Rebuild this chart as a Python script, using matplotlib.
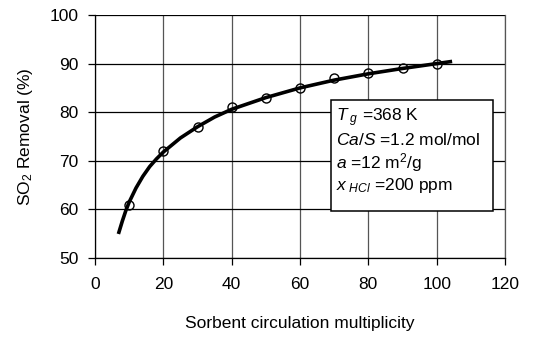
import matplotlib
matplotlib.use("Agg")
import matplotlib.pyplot as plt
from matplotlib.patches import Rectangle

plt.rcParams['font.family'] = ['Liberation Sans', 'DejaVu Sans']
plt.rcParams['mathtext.fontset'] = 'custom'
plt.rcParams['mathtext.rm'] = 'Liberation Sans'
plt.rcParams['mathtext.it'] = 'Liberation Sans:italic'

# measured points
meas_x = [10, 20, 30, 40, 50, 60, 70, 80, 90, 100]
meas_y = [61, 72, 77, 81, 83, 85, 87, 88, 89, 90]

# fitted curve
curve_x = [7, 8, 9, 10, 12, 14, 16, 18, 20, 25, 30, 35, 40, 50, 60, 70, 80, 90, 100, 104]
curve_y = [55.3, 57.6, 59.7, 61.5, 64.4, 66.8, 68.8, 70.4, 71.8, 74.7, 77.0, 79.0, 80.6, 83.0, 85.0, 86.6, 87.9, 89.0, 90.0, 90.4]

xticks = [0, 20, 40, 60, 80, 100, 120]
yticks = [50, 60, 70, 80, 90, 100]

box_lines = ['$T_{\\ g}$ =368 K',
             '$Ca/S$ =1.2 mol/mol',
             '$a$ =12 m$^2$/g',
             '$x_{\\ HCl}$ =200 ppm']

fig = plt.figure(figsize=(5.55, 3.37), dpi=100)
ax = fig.add_axes([95/555, 1-258/337, 410/555, 243/337])

ax.plot(curve_x, curve_y, color='black', lw=2.6, zorder=3)
ax.plot(meas_x, meas_y, linestyle='none', marker='o', ms=6.5, mfc='none', mec='black', mew=1.0, zorder=4)

ax.set_xlim(0, 120)
ax.set_ylim(50, 100)
ax.set_xticks(xticks)
ax.set_yticks(yticks)
ax.tick_params(direction='out', length=5, width=0.9, labelsize=12.5)
ax.tick_params(axis='x', pad=9)
ax.tick_params(axis='y', pad=7)
ax.xaxis.grid(True, color='#555555', lw=0.9)
ax.yaxis.grid(True, color='black', lw=0.9)
for s in ax.spines.values():
    s.set_linewidth(0.9)
ax.spines['top'].set_visible(False)
ax.spines['right'].set_color('#555555')

ax.set_xlabel('Sorbent circulation multiplicity', fontsize=12.5, labelpad=17)
ax.set_ylabel('SO$_2$ Removal (%)', fontsize=12.5, labelpad=10)

x0, x1 = (331-95)/410, (493-95)/410
y0, y1 = (258-211)/243, (258-100)/243
ax.add_patch(Rectangle((x0, y0), x1-x0, y1-y0, transform=ax.transAxes,
                       fc='white', ec='black', lw=1.1, zorder=5))
line_y = [0.578, 0.486, 0.393, 0.298]
for t, yy in zip(box_lines, line_y):
    ax.text((336-95)/410, yy, t, transform=ax.transAxes, fontsize=12.5,
            va='center', ha='left', zorder=6)

fig.savefig('out.png', dpi=100)
